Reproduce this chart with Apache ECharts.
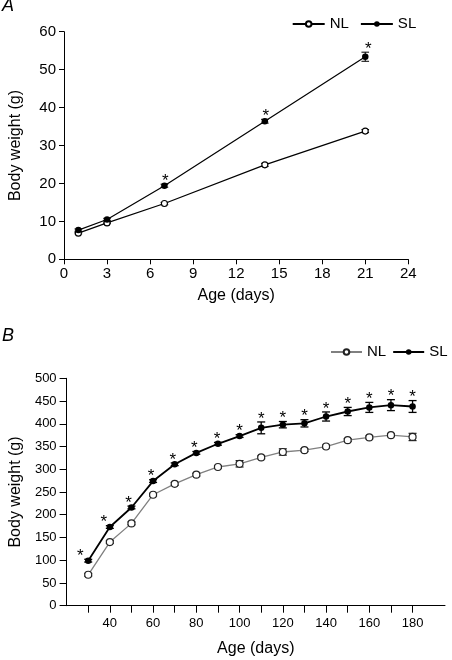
<!DOCTYPE html>
<html><head><meta charset="utf-8">
<script src="https://cdn.jsdelivr.net/npm/echarts@6/dist/echarts.min.js"></script>
<style>html,body{margin:0;padding:0;background:#fff}#c{width:452px;height:660px}</style>
</head><body><div id="c"></div>
<script>
// ---- Panel A data ----
const daysA = [1, 3, 7, 14, 21];
const nlA = [6.9, 9.6, 14.7, 24.9, 33.8];
const slA = [7.7, 10.5, 19.4, 36.4, 53.4];
const nlSemA = [0.2, 0.2, 0.3, 0.4, 0.4];
const slSemA = [0.3, 0.3, 0.4, 0.5, 1.2];
const sigA = [0, 0, 1, 1, 1];
const xTicksA = [0, 3, 6, 9, 12, 15, 18, 21, 24];
const yTicksA = [0, 10, 20, 30, 40, 50, 60];

// ---- Panel B data ----
const daysB = [30, 40, 50, 60, 70, 80, 90, 100, 110, 120, 130, 140, 150, 160, 170, 180];
const nlB = [68, 140, 181, 244, 268, 288, 305, 312, 326, 338, 342, 350, 364, 370, 375, 371];
const slB = [99, 173, 216, 274, 311, 336, 356, 373, 391, 398, 401, 416, 427, 436, 441, 438];
const nlSemB = [3, 3, 3, 3, 3, 3, 3, 7, 3, 7, 3, 3, 3, 3, 3, 8];
const slSemB = [3, 3, 3, 3, 3, 3, 3, 3, 13, 7, 8, 10, 9, 11, 12, 13];
const sigB = [1, 1, 1, 1, 1, 1, 1, 1, 1, 1, 1, 1, 1, 1, 1, 1];
const xTicksB = [30, 40, 50, 60, 70, 80, 90, 100, 110, 120, 130, 140, 150, 160, 170, 180];
const xLabelsB = [40, 60, 80, 100, 120, 140, 160, 180];
const yTicksB = [0, 50, 100, 150, 200, 250, 300, 350, 400, 450, 500];
const xRangeB = [20, 195];

// ---- style (not data) ----
const FONT = '"Liberation Sans", Arial, sans-serif';
const starDxA = [0, 0, 1, 1, 3];
const starDxB = [-8, -6, -3, -2, -2, -2, -1, 0, 0, 0, 0, 0, 0, 0, 0, 0];

function pairs(xs, ys) { return xs.map((x, i) => [x, ys[i]]); }
function errData(xs, ys, sems, sig, dx) { return xs.map((x, i) => [x, ys[i], sems[i], sig ? sig[i] : 0, dx ? dx[i] : 0]); }

function errRender(color, lw, cap) {
  return function (params, api) {
    const x = api.value(0), y = api.value(1), s = api.value(2), sig = api.value(3), dx = api.value(4);
    const top = api.coord([x, y + s]);
    const bot = api.coord([x, y - s]);
    const children = [];
    const st = { stroke: color, lineWidth: lw, fill: null };
    children.push({ type: 'line', shape: { x1: top[0], y1: top[1], x2: bot[0], y2: bot[1] }, style: st });
    children.push({ type: 'line', shape: { x1: top[0] - cap, y1: top[1], x2: top[0] + cap, y2: top[1] }, style: st });
    children.push({ type: 'line', shape: { x1: bot[0] - cap, y1: bot[1], x2: bot[0] + cap, y2: bot[1] }, style: st });
    if (sig) {
      children.push({ type: 'text', x: top[0] + dx, y: top[1] - 3,
        style: { text: '*', fill: '#000', font: '17px ' + FONT, align: 'center', verticalAlign: 'middle' } });
    }
    return { type: 'group', children };
  };
}

function axisCommon(fs) {
  return {
    axisLine: { show: true, lineStyle: { color: '#000', width: 1 } },
    splitLine: { show: false },
    axisLabel: { color: '#000', fontSize: fs, fontFamily: FONT },
    nameTextStyle: { color: '#000', fontSize: 16, fontFamily: FONT },
    nameLocation: 'middle'
  };
}

const chart = echarts.init(document.getElementById('c'), null, { renderer: 'canvas' });
const xA = axisCommon(15), yA = axisCommon(15), xB = axisCommon(13), yB = axisCommon(13);

chart.setOption({
  animation: false,
  backgroundColor: '#fff',
  graphic: [
    { type: 'text', left: 2, top: -3, style: { text: 'A', font: 'italic 18px ' + FONT, fill: '#000' } },
    { type: 'text', left: 2, top: 327, style: { text: 'B', font: 'italic 18px ' + FONT, fill: '#000' } }
  ],
  grid: [
    { left: 63.5, top: 31.7, width: 344.8, height: 227.6 },
    { left: 61.7, top: 378.3, width: 383.3, height: 227.4 }
  ],
  legend: [
    { data: ['NL', 'SL'], left: 291.7, top: 16.5, padding: 0, itemWidth: 32, itemHeight: 7, itemGap: 11,
      textStyle: { fontSize: 15, color: '#000', fontFamily: FONT } },
    { data: ['NL_B', 'SL_B'], left: 330, top: 344.5, padding: 0, itemWidth: 31, itemHeight: 7, itemGap: 6,
      formatter: n => n.replace('_B', ''),
      textStyle: { fontSize: 15, color: '#000', fontFamily: FONT } }
  ],
  xAxis: [
    Object.assign(xA, { type: 'value', gridIndex: 0, min: xTicksA[0], max: xTicksA[xTicksA.length - 1], interval: 3,
      name: 'Age (days)', nameGap: 28,
      axisTick: { show: true, length: 5, lineStyle: { color: '#000' } },
      axisLabel: Object.assign(xA.axisLabel, { margin: 7 }) }),
    Object.assign(xB, { type: 'value', gridIndex: 1, min: xRangeB[0], max: xRangeB[1],
      name: 'Age (days)', nameGap: 35,
      axisTick: { show: true, length: 7, lineStyle: { color: '#000' }, customValues: xTicksB },
      axisLabel: Object.assign(xB.axisLabel, { margin: 11, customValues: xLabelsB }) })
  ],
  yAxis: [
    Object.assign(yA, { type: 'value', gridIndex: 0, min: yTicksA[0], max: yTicksA[yTicksA.length - 1], interval: 10,
      name: 'Body weight (g)', nameGap: 40,
      axisTick: { show: true, length: 5, lineStyle: { color: '#000' } },
      axisLabel: Object.assign(yA.axisLabel, { margin: 8 }) }),
    Object.assign(yB, { type: 'value', gridIndex: 1, min: yTicksB[0], max: yTicksB[yTicksB.length - 1], interval: 50,
      name: 'Body weight (g)', nameGap: 39,
      axisTick: { show: true, length: 7, lineStyle: { color: '#000' } },
      axisLabel: Object.assign(yB.axisLabel, { margin: 10 }) })
  ],
  series: [
    { type: 'custom', name: 'errA_NL', xAxisIndex: 0, yAxisIndex: 0, z: 1, data: errData(daysA, nlA, nlSemA),
      renderItem: errRender('#000', 1, 3.8), encode: { x: 0, y: 1 }, clip: false, silent: true },
    { type: 'custom', name: 'errA_SL', xAxisIndex: 0, yAxisIndex: 0, z: 1, data: errData(daysA, slA, slSemA, sigA, starDxA),
      renderItem: errRender('#000', 1, 3.8), encode: { x: 0, y: 1 }, clip: false, silent: true },
    { type: 'line', name: 'NL', xAxisIndex: 0, yAxisIndex: 0, z: 3, data: pairs(daysA, nlA),
      symbol: 'circle', symbolSize: 6, lineStyle: { color: '#000', width: 1.2 },
      itemStyle: { color: '#fff', borderColor: '#000', borderWidth: 1.1 } },
    { type: 'line', name: 'SL', xAxisIndex: 0, yAxisIndex: 0, z: 3, data: pairs(daysA, slA),
      symbol: 'circle', symbolSize: 6.5, lineStyle: { color: '#000', width: 1.2 },
      itemStyle: { color: '#000', borderColor: '#000', borderWidth: 0 } },

    { type: 'custom', name: 'errB_NL', xAxisIndex: 1, yAxisIndex: 1, z: 1, data: errData(daysB, nlB, nlSemB),
      renderItem: errRender('#222', 1.2, 4), encode: { x: 0, y: 1 }, clip: false, silent: true },
    { type: 'custom', name: 'errB_SL', xAxisIndex: 1, yAxisIndex: 1, z: 1, data: errData(daysB, slB, slSemB, sigB, starDxB),
      renderItem: errRender('#000', 1.3, 4), encode: { x: 0, y: 1 }, clip: false, silent: true },
    { type: 'line', name: 'NL_B', xAxisIndex: 1, yAxisIndex: 1, z: 3, data: pairs(daysB, nlB),
      symbol: 'circle', symbolSize: 7, lineStyle: { color: '#808080', width: 1.3 },
      itemStyle: { color: '#fff', borderColor: '#222', borderWidth: 1.2 } },
    { type: 'line', name: 'SL_B', xAxisIndex: 1, yAxisIndex: 1, z: 3, data: pairs(daysB, slB),
      symbol: 'circle', symbolSize: 6.5, lineStyle: { color: '#000', width: 1.8 },
      itemStyle: { color: '#000', borderColor: '#000', borderWidth: 0 } }
  ]
});
</script>
</body></html>
